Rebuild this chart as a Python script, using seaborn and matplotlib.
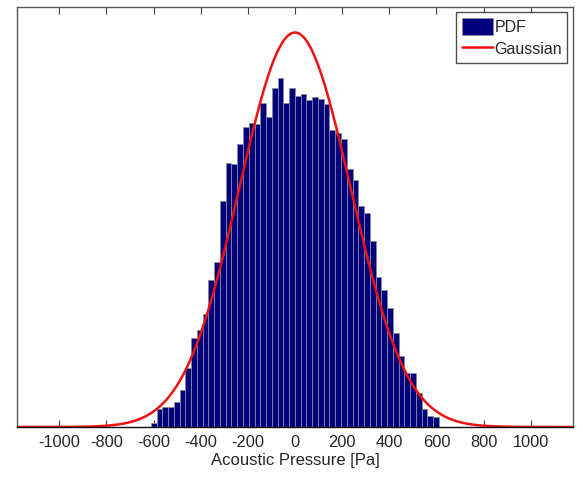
import numpy as np
import pandas as pd
import matplotlib
matplotlib.use("Agg")
import matplotlib.pyplot as plt
import seaborn as sns

# histogram: 50 bins between the data min and max, bar heights as PDF (x 1e-3)
bin_lo, bin_hi, n_bins = -612, 611, 50
pdf_e3 = [0.018, 0.076, 0.084, 0.084, 0.107, 0.158, 0.251, 0.381, 0.415, 0.484,
          0.629, 0.705, 0.969, 1.133, 1.126, 1.214, 1.285, 1.303, 1.300, 1.387,
          1.328, 1.454, 1.497, 1.390, 1.451, 1.418, 1.425, 1.400, 1.412, 1.404,
          1.385, 1.271, 1.261, 1.236, 1.107, 1.060, 0.946, 0.915, 0.796, 0.642,
          0.586, 0.511, 0.401, 0.304, 0.232, 0.232, 0.144, 0.076, 0.047, 0.044]

# fitted gaussian
mu, sigma = 0.0, 236.0

xticks = [-1000, -800, -600, -400, -200, 0, 200, 400, 600, 800, 1000]

edges = np.linspace(bin_lo, bin_hi, n_bins + 1)
centers = (edges[:-1] + edges[1:]) / 2
df = pd.DataFrame({"p": centers, "pdf": np.array(pdf_e3) * 1e-3})

xg = np.linspace(-1180, 1180, 600)
gauss = pd.DataFrame({"p": xg,
                      "pdf": np.exp(-(xg - mu) ** 2 / (2 * sigma ** 2)) / (sigma * np.sqrt(2 * np.pi))})

sns.set_style("white")
plt.rcParams["font.family"] = ["Liberation Sans", "DejaVu Sans"]

fig = plt.figure(figsize=(5.83, 4.79), dpi=100)
ax = fig.add_axes([0.029, 0.1086, 0.954, 0.877])

sns.histplot(df, x="p", weights="pdf", bins=n_bins, binrange=(bin_lo, bin_hi),
             stat="count", color="#00007f", alpha=1, edgecolor="#8a8a9a",
             linewidth=0.6, label="PDF", ax=ax)
sns.lineplot(gauss, x="p", y="pdf", color="#ee1111", linewidth=1.8,
             label="Gaussian", ax=ax)

ax.set_xlim(-1180, 1180)
ax.set_ylim(0, 1.80e-3)
ax.set_xticks(xticks)
ax.set_xticklabels([str(t) for t in xticks], fontsize=11.8)
ax.set_yticks([])
ax.tick_params(axis="x", direction="in", length=5, width=0.8, color="#444444",
               top=True, bottom=True, pad=6)
ax.set_xlabel("Acoustic Pressure [Pa]", fontsize=12, labelpad=2)
ax.set_ylabel("")
for s in ax.spines.values():
    s.set_color("#555555")
    s.set_linewidth(1.0)
ax.spines["bottom"].set_color("#111111")

handles, labels = ax.get_legend_handles_labels()
order = [labels.index("PDF"), labels.index("Gaussian")]
leg = ax.legend([handles[i] for i in order], [labels[i] for i in order],
                loc="upper right", fontsize=11.5, frameon=True, fancybox=False,
                borderpad=0.35, handlelength=1.95, handleheight=1.3,
                handletextpad=0.1, labelspacing=0.3, borderaxespad=0.35)
leg.get_frame().set_edgecolor("#222222")
leg.get_frame().set_linewidth(1.0)

fig.savefig("out.png", dpi=100)
